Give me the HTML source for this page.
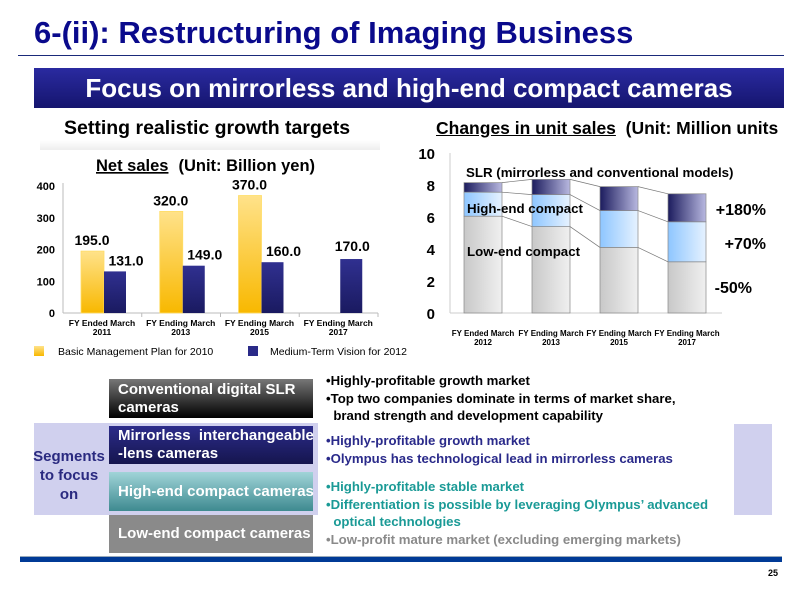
<!DOCTYPE html>
<html><head><meta charset="utf-8"><style>
*{margin:0;padding:0;box-sizing:border-box}
body{width:800px;height:600px;background:#fff;position:relative;overflow:hidden;font-family:"Liberation Sans",Arial,sans-serif;font-weight:bold}
.a{position:absolute;white-space:nowrap}
.seg{position:absolute;left:109px;width:204px;color:#fff;font-size:15px;line-height:18px;padding:2px 9px;display:flex;align-items:center;white-space:nowrap;overflow:visible}
.t{position:absolute;font-size:13.2px;line-height:17.5px;white-space:nowrap}
</style></head><body>
<div class="a" style="left:34px;top:15px;font-size:31px;color:#0a0a8c">6-(ii): Restructuring of Imaging Business</div>
<div class="a" style="left:18px;top:55px;width:766px;height:1px;background:#1a2a7a"></div>
<div class="a" style="left:34px;top:68px;width:750px;height:40px;background:linear-gradient(#2a2aa0,#15156e);color:#fff;font-size:26px;text-align:center;line-height:40px">Focus on mirrorless and high-end compact cameras</div>
<div class="a" style="left:64px;top:117px;font-size:19.5px">Setting realistic growth targets</div>
<div class="a" style="left:40px;top:140px;width:340px;height:10px;background:linear-gradient(#fff,#eee)"></div>
<div class="a" style="left:436px;top:118px;font-size:17.5px"><u>Changes in unit sales</u>&nbsp; (Unit: Million units</div>

<svg class="a" style="left:0;top:150px" width="420" height="210" id="c1"></svg>
<svg class="a" style="left:400px;top:140px" width="400" height="220" id="c2"></svg>

<div class="a" style="left:34px;top:423px;width:284px;height:92px;background:#d0d0ee"></div>
<div class="a" style="left:734px;top:424px;width:38px;height:91px;background:#d0d0ee"></div>
<div class="a" style="left:30px;top:447px;width:78px;text-align:center;font-size:15px;line-height:19px;color:#2a2a80;white-space:normal">Segments to focus on</div>
<div class="seg" style="top:379px;height:39px;background:linear-gradient(#777,#000)">Conventional digital SLR<br>cameras</div>
<div class="seg" style="top:426px;height:38px;background:linear-gradient(#2c2c8a,#15154e)">Mirrorless&nbsp; interchangeable<br>-lens cameras</div>
<div class="seg" style="top:472px;height:39px;background:linear-gradient(#a0d4d8,#3e8a90)">High-end compact cameras</div>
<div class="seg" style="top:515px;height:38px;background:#8a8a8a">Low-end compact cameras</div>

<div class="t" style="left:326px;top:372px;color:#000">•Highly-profitable growth market<br>•Top two companies dominate in terms of market share,<br>&nbsp;&nbsp;brand strength and development capability</div>
<div class="t" style="left:326px;top:432px;color:#2a2a8a">•Highly-profitable growth market<br>•Olympus has technological lead in mirrorless cameras</div>
<div class="t" style="left:326px;top:478px;color:#1a9a96">•Highly-profitable stable market<br>•Differentiation is possible by leveraging Olympus’ advanced<br>&nbsp;&nbsp;optical technologies</div>
<div class="t" style="left:326px;top:531px;color:#8a8a8a">•Low-profit mature market (excluding emerging markets)</div>
<div class="a" style="left:20px;top:556px;width:762px;height:6px;background:#003a96;border-top:1px solid #9ab"></div>
<div class="a" style="left:768px;top:568px;font-size:9px">25</div>

<script>
const cats1=["FY Ended March|2011","FY Ending March|2013","FY Ending March|2015","FY Ending March|2017"];
const plan2010=[195,320,370,null];
const vision2012=[131,149,160,170];
const ticks1=[0,100,200,300,400];
const cats2=["FY Ended March|2012","FY Ending March|2013","FY Ending March|2015","FY Ending March|2017"];
const lowEnd=[6.05,5.4,4.1,3.2];
const highEnd=[1.5,2.0,2.3,2.5];
const slr=[0.6,0.95,1.5,1.75];
const ticks2=[0,2,4,6,8,10];
const NS="http://www.w3.org/2000/svg";
function mk(p,tag,at,txt){const e=document.createElementNS(NS,tag);for(const k in at)e.setAttribute(k,at[k]);if(txt!=null)e.textContent=txt;p.appendChild(e);return e;}
const c1=document.getElementById('c1');
const d1=mk(c1,'defs',{});
let g=mk(d1,'linearGradient',{id:'gy',x1:0,y1:0,x2:0,y2:1});mk(g,'stop',{offset:0,'stop-color':'#ffe28a'});mk(g,'stop',{offset:1,'stop-color':'#f8b800'});
g=mk(d1,'linearGradient',{id:'gb',x1:0,y1:0,x2:0,y2:1});mk(g,'stop',{offset:0,'stop-color':'#303090'});mk(g,'stop',{offset:1,'stop-color':'#1a1a60'});
const y1=v=>163-v*0.3175, x1=i=>63+i*78.75;
const ttl=mk(c1,'text',{x:96,y:21,'font-size':16.5});
mk(ttl,'tspan',{'text-decoration':'underline'},'Net sales');
mk(ttl,'tspan',{dx:10},'(Unit: Billion yen)');
mk(c1,'line',{x1:63,y1:33,x2:63,y2:163,stroke:'#bbb'});
mk(c1,'line',{x1:63,y1:163,x2:378,y2:163,stroke:'#bbb'});
ticks1.forEach(t=>{const e=mk(c1,'text',{x:55,y:y1(t)+4,'text-anchor':'end','font-size':11},t);});
cats1.forEach((cat,i)=>{const [a,b]=cat.split('|');mk(c1,'line',{x1:x1(i+1),y1:163,x2:x1(i+1),y2:167,stroke:'#bbb'});
 const cx=x1(i)+39;
 mk(c1,'text',{x:cx,y:176,'text-anchor':'middle','font-size':8.5},a);mk(c1,'text',{x:cx,y:185,'text-anchor':'middle','font-size':8.5},b);
 if(plan2010[i]!=null){const r=mk(c1,'rect',{x:cx-21,y:y1(plan2010[i]),width:23,height:plan2010[i]*0.3175,fill:'url(#gy)',stroke:'#fd6','stroke-width':.8});
  
  mk(c1,'text',{x:cx-10,y:y1(plan2010[i])-6,'text-anchor':'middle','font-size':14},plan2010[i].toFixed(1));}
 const r2=mk(c1,'rect',{x:cx+2,y:y1(vision2012[i]),width:22,height:vision2012[i]*0.3175,fill:'url(#gb)'});
 
 mk(c1,'text',{x:i==3?cx+14:cx+24,y:y1(vision2012[i])-(i==3?8:6),'text-anchor':'middle','font-size':14},vision2012[i].toFixed(1));
});
let lg=mk(c1,'rect',{x:34,y:196,width:10,height:10,fill:'url(#gy)'});
mk(c1,'text',{x:58,y:205,'font-size':10.5,'font-weight':'normal'},'Basic Management Plan for 2010');
lg=mk(c1,'rect',{x:248,y:196,width:10,height:10,fill:'#2a2a88'});
mk(c1,'text',{x:270,y:205,'font-size':10.5,'font-weight':'normal'},'Medium-Term Vision for 2012');

const c2=document.getElementById('c2');
const d2=mk(c2,'defs',{});
g=mk(d2,'linearGradient',{id:'gg',x1:0,y1:0,x2:1,y2:0});mk(g,'stop',{offset:0,'stop-color':'#c8c8c8'});mk(g,'stop',{offset:1,'stop-color':'#f0f0f0'});
g=mk(d2,'linearGradient',{id:'gh',x1:0,y1:0,x2:1,y2:0});mk(g,'stop',{offset:0,'stop-color':'#8ec6ff'});mk(g,'stop',{offset:1,'stop-color':'#e6f2ff'});
g=mk(d2,'linearGradient',{id:'gs',x1:0,y1:0,x2:1,y2:0});mk(g,'stop',{offset:0,'stop-color':'#1c1c5e'});mk(g,'stop',{offset:1,'stop-color':'#b8b8e0'});
const y2=v=>173-v*16, bx=[64,132,200,268], bw=38;
mk(c2,'line',{x1:50,y1:13,x2:50,y2:173,stroke:'#ccc'});
mk(c2,'line',{x1:50,y1:173,x2:322,y2:173,stroke:'#ccc'});
ticks2.forEach(t=>{const e=mk(c2,'text',{x:35,y:y2(t)+6,'text-anchor':'end','font-size':15},t);});
const segs=[[lowEnd,'url(#gg)','low-end'],[highEnd,'url(#gh)','high-end'],[slr,'url(#gs)','slr']];
const tops=cats2.map(()=>0);
const bounds=[];
segs.forEach(([arr,f,n])=>{const b=[];cats2.forEach((cat,i)=>{tops[i]+=arr[i];
 const r=mk(c2,'rect',{x:bx[i],y:y2(tops[i]),width:bw,height:arr[i]*16,fill:f,stroke:'#888','stroke-width':.7});
 b.push(tops[i]);});bounds.push(b);});
bounds.forEach(b=>{for(let i=0;i<3;i++)mk(c2,'line',{x1:bx[i]+bw,y1:y2(b[i]),x2:bx[i+1],y2:y2(b[i+1]),stroke:'#777','stroke-width':.7});});
cats2.forEach((cat,i)=>{const [a,b]=cat.split('|');mk(c2,'text',{x:bx[i]+19,y:196,'text-anchor':'middle','font-size':8},a);mk(c2,'text',{x:bx[i]+19,y:205,'text-anchor':'middle','font-size':8},b);});
mk(c2,'text',{x:66,y:37,'font-size':13.3},'SLR (mirrorless and conventional models)');
mk(c2,'text',{x:67,y:73,'font-size':13.3},'High-end compact');
mk(c2,'text',{x:67,y:116,'font-size':13.3},'Low-end compact');
mk(c2,'text',{x:366,y:75,'text-anchor':'end','font-size':16},'+180%');
mk(c2,'text',{x:366,y:109,'text-anchor':'end','font-size':16},'+70%');
mk(c2,'text',{x:352,y:153,'text-anchor':'end','font-size':16},'-50%');
</script>
</body></html>
